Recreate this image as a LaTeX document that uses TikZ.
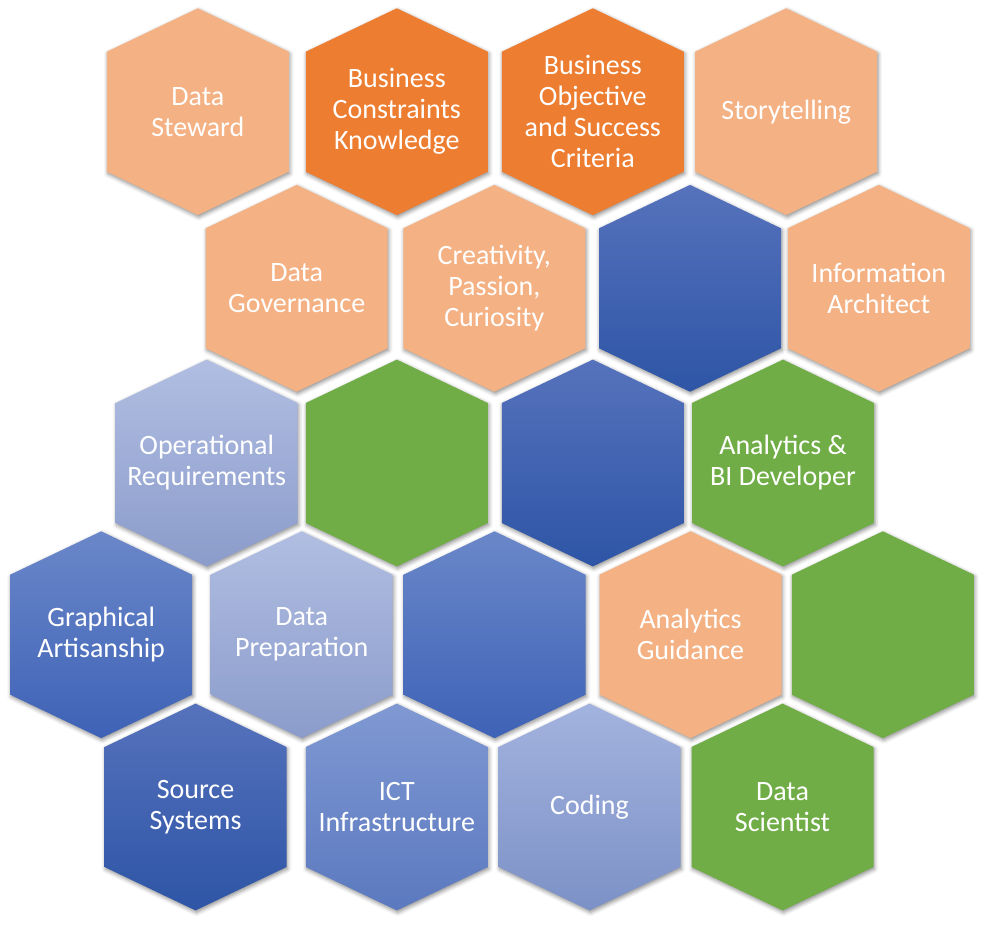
\documentclass[tikz,border=0pt]{standalone}
\usepackage{fontspec}
\setmainfont{Carlito}
\usetikzlibrary{shadows.blur}

% palette
\definecolor{peach}{HTML}{F4B183}
\definecolor{burnt}{HTML}{ED7D31}
\definecolor{leaf}{HTML}{70AD47}
\definecolor{deepTop}{HTML}{5672BC}
\definecolor{deepBot}{HTML}{2E55A6}
\definecolor{midTop}{HTML}{6A87C9}
\definecolor{midBot}{HTML}{3E62B6}
\definecolor{ictTop}{HTML}{8099D3}
\definecolor{ictBot}{HTML}{5B79BF}
\definecolor{codeTop}{HTML}{A3B3DF}
\definecolor{codeBot}{HTML}{7C91C6}
\definecolor{paleTop}{HTML}{B1BEE2}
\definecolor{paleBot}{HTML}{8B9CCB}

\tikzset{
  hexbase/.style={blur shadow={shadow xshift=1pt, shadow yshift=-2pt,
      shadow blur radius=4pt, shadow opacity=45}},
  peachhex/.style={hexbase, fill=peach},
  orangehex/.style={hexbase, fill=burnt},
  greenhex/.style={hexbase, fill=leaf},
  deephex/.style={hexbase, top color=deepTop, bottom color=deepBot},
  midhex/.style={hexbase, top color=midTop, bottom color=midBot},
  icthex/.style={hexbase, top color=ictTop, bottom color=ictBot},
  codehex/.style={hexbase, top color=codeTop, bottom color=codeBot},
  palehex/.style={hexbase, top color=paleTop, bottom color=paleBot},
  hexlabel/.style={text=white, align=center, inner sep=0pt,
      font=\fontsize{28}{31}\selectfont}
}

% #1 name, #2 x centre, #3 y centre, #4 style, #5 label
\newcommand\hexcell[5]{%
  \path[#4] (#2,#3) ++(0,-103.4) -- ++(91,43.4) -- ++(0,120)
    -- ++(-91,43.4) -- ++(-91,-43.4) -- ++(0,-120) -- cycle;
  \node[hexlabel] (#1) at (#2,#3) {#5};
}

\begin{document}
\begin{tikzpicture}[x=1pt, y=-1pt]
  \useasboundingbox (0,0) rectangle (984,924);

  % row 1
  \hexcell{steward}{197.8}{111.7}{peachhex}{Data\\Steward}
  \hexcell{constraints}{396.8}{111.7}{orangehex}{Business\\Constraints\\Knowledge}
  \hexcell{objective}{592.8}{111.7}{orangehex}{Business\\Objective\\and Success\\Criteria}
  \hexcell{story}{786.2}{111.7}{peachhex}{Storytelling}

  % row 2
  \hexcell{governance}{296.7}{288.3}{peachhex}{Data\\Governance}
  \hexcell{creativity}{494.3}{288.3}{peachhex}{Creativity,\\Passion,\\Curiosity}
  \hexcell{blueA}{690}{288.3}{deephex}{}
  \hexcell{architect}{878.8}{288.3}{peachhex}{Information\\Architect}

  % row 3
  \hexcell{operational}{206.7}{463}{palehex}{Operational\\Requirements}
  \hexcell{greenA}{396.8}{463}{greenhex}{}
  \hexcell{blueB}{592.8}{463}{deephex}{}
  \hexcell{bidev}{783}{463}{greenhex}{Analytics \&\\BI Developer}

  % row 4
  \hexcell{artisan}{101.2}{634.7}{midhex}{Graphical\\Artisanship}
  \hexcell{prep}{301.7}{634.7}{palehex}{Data\\Preparation}
  \hexcell{blueC}{494.5}{634.7}{midhex}{}
  \hexcell{guidance}{690.5}{634.7}{peachhex}{Analytics\\Guidance}
  \hexcell{greenB}{882.8}{634.7}{greenhex}{}

  % row 5
  \hexcell{source}{195.5}{807}{deephex}{Source\\Systems}
  \hexcell{ict}{396.8}{807}{icthex}{ICT\\Infrastructure}
  \hexcell{coding}{589.5}{807}{codehex}{Coding}
  \hexcell{scientist}{782.5}{807}{greenhex}{Data\\Scientist}
\end{tikzpicture}
\end{document}
